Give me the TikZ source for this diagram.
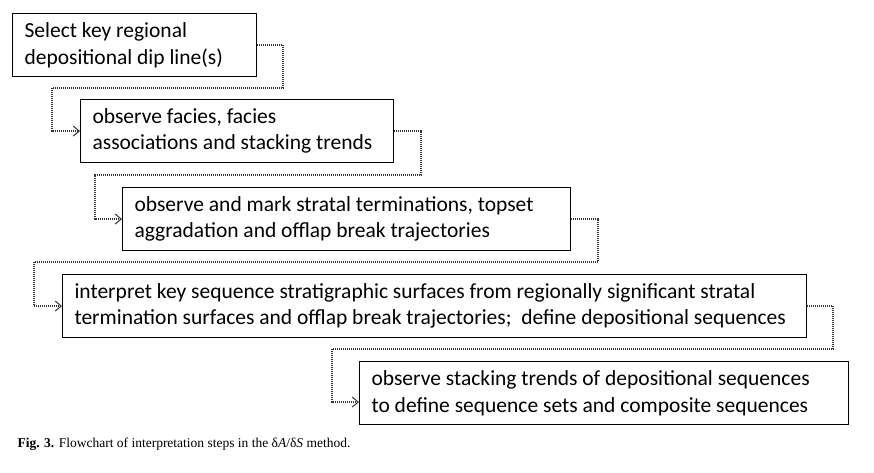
\documentclass[tikz,border=0pt]{standalone}
\usepackage{fontspec}
\setmainfont{Carlito}
\newfontfamily\capfont{Liberation Serif}
\usetikzlibrary{arrows.meta}
\begin{document}
\begin{tikzpicture}
[x=1pt, y=-1pt,
 stagebox/.style ={draw, line width=1.1pt, anchor=north west, align=flush left,
   inner xsep=12pt, inner ysep=0pt, minimum height=63pt,
   font=\fontsize{21.5}{26.5}\selectfont},
 link/.style ={line width=1.2pt, black!80, dash pattern=on 1pt off 1pt,
   -{Straight Barb[length=6pt, width=10pt, line width=1pt]}}]
\useasboundingbox (0,0) rectangle (874,473);
\node[stagebox, text width=220pt] (select) at (12,13)
  {Select key regional\\depositional dip line(s)};
\node[stagebox, text width=289pt] (facies) at (80,99)
  {observe facies, facies\\associations and stacking trends};
\node[stagebox, text width=424pt] (strata) at (122,187)
  {observe and mark stratal terminations, topset\\aggradation and offlap break trajectories};
\node[stagebox, text width=720pt] (surfaces) at (62,274)
  {interpret key sequence stratigraphic surfaces from regionally significant stratal\\termination surfaces and offlap break trajectories;\ \ define depositional sequences};
\node[stagebox, text width=465pt] (sets) at (359,361)
  {observe stacking trends of depositional sequences\\to define sequence sets and composite sequences};
\draw[link] (select.east) -| (283,88) -- (52,88) |- (facies.west);
\draw[link] (facies.east) -| (421,175) -- (95,175) |- (strata.west);
\draw[link] (strata.east) -| (598,262) -- (34,262) |- (surfaces.west);
\draw[link] (surfaces.east) -| (833,349) -- (332,349) |- ([yshift=-9pt]sets.west);
\node[anchor=west, font=\capfont\fontsize{13.5}{15}\selectfont] (caption) at (14,444)
  {\textbf{Fig. 3.} Flowchart of interpretation steps in the δ\textit{A}/δ\textit{S} method.};
\end{tikzpicture}
\end{document}
